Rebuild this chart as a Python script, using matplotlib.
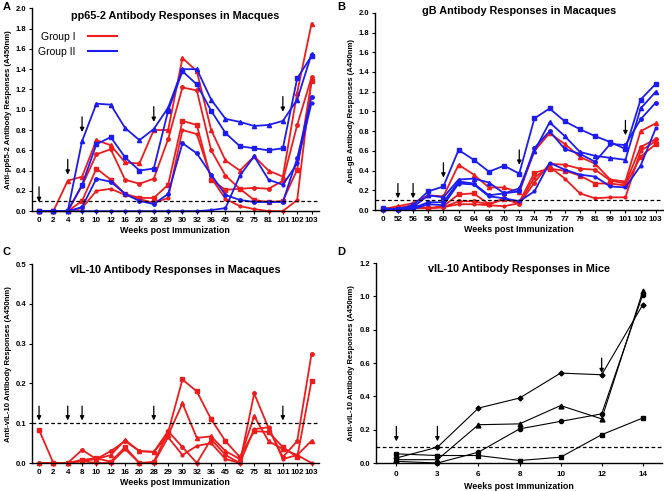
import matplotlib.pyplot as plt
import numpy as np

plt.rcParams['font.family'] = ['Liberation Sans', 'DejaVu Sans']

RED = '#ee1c1c'
BLUE = '#1c1cf2'

# ---- Panel A: pp65-2 in macaques ----
weeks_a = ['0', '2', '4', '8', '10', '12', '16', '20', '28', '29', '30', '32',
           '36', '45', '62', '75', '81', '101', '102', '103']
a_red1 = [0, 0, 0.30, 0.34, 0.70, 0.65, 0.48, 0.47, 0.80, 0.80, 1.51, 1.38, 0.80, 0.50, 0.40, 0.54, 0.40, 0.34, 1.17, 1.85]
a_red2 = [0, 0, 0, 0.25, 0.56, 0.61, 0.31, 0.27, 0.32, 0.71, 1.22, 1.19, 0.60, 0.35, 0.22, 0.23, 0.22, 0.30, 0.85, 1.32]
a_red3 = [0, 0, 0, 0.10, 0.42, 0.31, 0.17, 0.13, 0.13, 0.26, 0.89, 0.85, 0.31, 0.21, 0.22, 0.11, 0.09, 0.10, 0.41, 1.28]
a_red4 = [0, 0, 0, 0.03, 0.20, 0.22, 0.16, 0.12, 0.08, 0.13, 0.80, 0.76, 0.33, 0.12, 0.05, 0.02, 0.00, 0.00, 0.11, 1.30]
a_blue1 = [0, 0, 0, 0.69, 1.06, 1.05, 0.82, 0.70, 0.81, 1.02, 1.40, 1.40, 1.10, 0.91, 0.88, 0.84, 0.85, 0.89, 1.10, 1.55]
a_blue2 = [0, 0, 0, 0.26, 0.66, 0.73, 0.53, 0.40, 0.42, 0.99, 1.38, 1.25, 0.99, 0.77, 0.64, 0.62, 0.60, 0.62, 1.31, 1.53]
a_blue3 = [0, 0, 0, 0.04, 0.32, 0.29, 0.17, 0.10, 0.07, 0.17, 0.67, 0.57, 0.36, 0.16, 0.11, 0.09, 0.09, 0.09, 0.52, 1.13]
a_blue4 = [0, 0, 0, 0, 0, 0, 0, 0, 0, 0, 0, 0, 0.01, 0.03, 0.35, 0.54, 0.31, 0.26, 0.47, 1.07]
a_arrows = {'0': 0.09, '4': 0.36, '8': 0.78, '28': 0.88, '101': 0.98}

# ---- Panel B: gB in macaques ----
weeks_b = ['0', '52', '56', '58', '60', '62', '64', '68', '70', '73', '74', '75',
           '77', '79', '81', '99', '101', '102', '103']
b_blue1 = [0.02, 0.01, 0.05, 0.19, 0.24, 0.61, 0.51, 0.39, 0.45, 0.37, 0.93, 1.03, 0.90, 0.82, 0.75, 0.69, 0.62, 1.12, 1.28]
b_blue2 = [0.01, 0.01, 0.03, 0.15, 0.13, 0.31, 0.32, 0.28, 0.17, 0.22, 0.60, 0.89, 0.75, 0.59, 0.55, 0.53, 0.51, 1.03, 1.20]
b_blue3 = [0.01, 0.00, 0.02, 0.08, 0.08, 0.29, 0.27, 0.15, 0.17, 0.19, 0.63, 0.80, 0.62, 0.57, 0.49, 0.67, 0.66, 0.92, 1.09]
b_blue4 = [0.00, 0.00, 0.01, 0.06, 0.05, 0.27, 0.26, 0.14, 0.12, 0.09, 0.19, 0.48, 0.41, 0.36, 0.34, 0.24, 0.23, 0.45, 0.83]
b_red1 = [0.01, 0.04, 0.07, 0.15, 0.14, 0.46, 0.36, 0.23, 0.23, 0.18, 0.60, 0.78, 0.67, 0.54, 0.47, 0.31, 0.29, 0.80, 0.88]
b_red2 = [0.01, 0.02, 0.05, 0.02, 0.04, 0.16, 0.17, 0.06, 0.11, 0.08, 0.38, 0.42, 0.40, 0.35, 0.27, 0.27, 0.25, 0.54, 0.67]
b_red3 = [0.01, 0.02, 0.03, 0.02, 0.03, 0.09, 0.09, 0.06, 0.12, 0.06, 0.28, 0.47, 0.46, 0.42, 0.41, 0.30, 0.27, 0.64, 0.72]
b_red4 = [0.00, 0.01, 0.02, 0.02, 0.03, 0.06, 0.06, 0.05, 0.04, 0.07, 0.33, 0.44, 0.32, 0.17, 0.12, 0.13, 0.13, 0.60, 0.70]
b_arrows = {'52': 0.12, '56': 0.12, '60': 0.33, '73': 0.46, '101': 0.76}

# ---- Panel C: vIL-10 in macaques ----
c_red1 = [0.083, 0, 0, 0.008, 0.012, 0.003, 0.040, 0, 0.003, 0.078, 0.210, 0.180, 0.110, 0.055, 0.015, 0.080, 0.078, 0.040, 0.015, 0.207]
c_red2 = [0, 0, 0, 0.005, 0.010, 0.020, 0.058, 0.030, 0.028, 0.070, 0.150, 0.063, 0.067, 0.030, 0.010, 0.118, 0.055, 0.035, 0.020, 0.056]
c_red3 = [0, 0, 0, 0.033, 0.010, 0.030, 0.055, 0.030, 0.028, 0.080, 0.040, 0.000, 0.060, 0.020, 0.000, 0.175, 0.088, 0.015, 0.055, 0.275]
c_red4 = [0, 0, 0, 0.005, 0.000, 0.000, 0.035, 0.000, 0.000, 0.065, 0.020, 0.043, 0.050, 0.010, 0.000, 0.085, 0.090, 0.010, 0.020, 0.000]
c_arrows = {'0': 0.107, '4': 0.107, '8': 0.107, '28': 0.107, '101': 0.107}

# ---- Panel D: vIL-10 in mice ----
weeks_d = ['0', '3', '6', '8', '10', '12', '14']
d_m1 = [0.030, 0.095, 0.330, 0.390, 0.540, 0.530, 0.950]
d_m2 = [0.020, 0.020, 0.230, 0.235, 0.345, 0.265, 1.030]
d_m3 = [0.010, 0.000, 0.065, 0.205, 0.250, 0.295, 1.010]
d_m4 = [0.055, 0.045, 0.045, 0.015, 0.035, 0.170, 0.270]
d_arrows = {'0': 0.13, '3': 0.13, '12': 0.54}


def style_axes(ax, labels, ymax, ystep, ylabel, xright=None):
    x = np.arange(len(labels))
    ax.set_xticks(x)
    ax.set_xticklabels(labels, fontsize=5.8, fontweight='bold')
    ax.set_xlim(-0.5, xright if xright is not None else len(labels) - 0.5)
    ax.set_ylim(0, ymax)
    yt = np.arange(0, ymax + ystep / 2, ystep)
    ax.set_yticks(yt)
    ax.set_yticklabels(['%.1f' % v for v in yt], fontsize=5.5, fontweight='bold')
    ax.spines['top'].set_visible(False)
    ax.spines['right'].set_visible(False)
    ax.spines['left'].set_linewidth(1.0)
    ax.spines['bottom'].set_linewidth(1.0)
    ax.tick_params(length=2.5, width=0.8, pad=1.5)
    ax.set_ylabel(ylabel, fontsize=5.6, fontweight='bold', labelpad=3)
    ax.set_xlabel('Weeks post Immunization', fontsize=6.4, fontweight='bold', labelpad=2)


def draw_arrows(ax, labels, arrows, length):
    for wk, tip in arrows.items():
        i = labels.index(wk)
        ax.annotate('', xy=(i, tip), xytext=(i, tip + length),
                    arrowprops=dict(arrowstyle='-|>', color='black', lw=0.9,
                                    mutation_scale=6, shrinkA=0, shrinkB=0))


def plot_series(ax, labels, series, color, markers, sizes):
    x = np.arange(len(labels))
    for s, m, ms in zip(series, markers, sizes):
        ax.plot(x, s, color=color, marker=m, markersize=ms, linewidth=1.3,
                clip_on=False)


fig = plt.figure(figsize=(6.64, 4.91), dpi=100)

# Panel A
axA = fig.add_axes([0.048, 0.570, 0.432, 0.413])
plot_series(axA, weeks_a, [a_red1, a_red2, a_red3, a_red4], RED,
            ['^', 'o', 's', 'o'], [3, 2.5, 3.5, 2])
plot_series(axA, weeks_a, [a_blue1, a_blue2, a_blue3, a_blue4], BLUE,
            ['^', 's', 'o', 'o'], [3, 3.5, 2.5, 2])
axA.axhline(0.095, color='black', linestyle='--', linewidth=0.9, dashes=(3, 2))
draw_arrows(axA, weeks_a, a_arrows, 0.15)
style_axes(axA, weeks_a, 2.0, 0.2, 'Anti-pp65-2 Antibody Responses (A450nm)')
axA.text(0.5, 0.985, 'pp65-2 Antibody Responses in Macques', transform=axA.transAxes,
         ha='center', va='top', fontsize=7.8, fontweight='bold')
hr, = axA.plot([], [], color=RED, linewidth=1.5, label='Group I')
hb, = axA.plot([], [], color=BLUE, linewidth=1.5, label='Group II')
axA.legend(handles=[hr, hb], loc='upper left', bbox_to_anchor=(-0.01, 0.93),
           frameon=False, markerfirst=False, handlelength=2.8,
           handletextpad=1.2, labelspacing=0.5, prop={'size': 7.5})

# Panel B
axB = fig.add_axes([0.565, 0.572, 0.434, 0.402])
plot_series(axB, weeks_b, [b_red1, b_red2, b_red3, b_red4], RED,
            ['^', 's', 'o', 'o'], [3, 3.5, 2.5, 2])
plot_series(axB, weeks_b, [b_blue1, b_blue2, b_blue3, b_blue4], BLUE,
            ['s', '^', 'o', 'o'], [3.5, 3, 2.5, 2])
axB.axhline(0.1, color='black', linestyle='--', linewidth=0.9, dashes=(3, 2))
draw_arrows(axB, weeks_b, b_arrows, 0.15)
style_axes(axB, weeks_b, 2.0, 0.2, 'Anti-gB Antibody Responses (A450nm)')
axB.text(0.5, 1.035, 'gB Antibody Responses in Macaques', transform=axB.transAxes,
         ha='center', va='top', fontsize=7.8, fontweight='bold')

# Panel C
axC = fig.add_axes([0.048, 0.057, 0.432, 0.405])
plot_series(axC, weeks_a, [c_red1, c_red2, c_red3, c_red4], RED,
            ['s', '^', 'o', 'o'], [3.5, 3, 2.5, 2])
axC.axhline(0.1, color='black', linestyle='--', linewidth=0.9, dashes=(3, 2))
draw_arrows(axC, weeks_a, c_arrows, 0.036)
style_axes(axC, weeks_a, 0.5, 0.1, 'Anti-vIL-10 Antibody Responses (A450nm)')
axC.text(0.5, 0.995, 'vIL-10 Antibody Responses in Macaques', transform=axC.transAxes,
         ha='center', va='top', fontsize=7.8, fontweight='bold')

# Panel D
axD = fig.add_axes([0.566, 0.057, 0.431, 0.407])
x_d = np.arange(len(weeks_d))
axD.plot(x_d, d_m1, color='black', marker='D', markersize=2.5, linewidth=0.8, clip_on=False)
axD.plot(x_d, d_m2, color='black', marker='^', markersize=3.5, linewidth=0.8, clip_on=False)
axD.plot(x_d, d_m3, color='black', marker='o', markersize=3, linewidth=0.8, clip_on=False)
axD.plot(x_d, d_m4, color='black', marker='s', markersize=3.5, linewidth=0.8, clip_on=False)
axD.axhline(0.095, color='black', linestyle='--', linewidth=0.9, dashes=(3, 2))
draw_arrows(axD, weeks_d, d_arrows, 0.09)
style_axes(axD, weeks_d, 1.2, 0.2, 'Anti-vIL-10 Antibody Responses (A450nm)', xright=6.47)
axD.tick_params(axis='x', pad=3)
axD.xaxis.labelpad = 3
axD.text(0.5, 0.995, 'vIL-10 Antibody Responses in Mice', transform=axD.transAxes,
         ha='center', va='top', fontsize=7.8, fontweight='bold')

for lbl, (fx, fy) in {'A': (0.004, 0.996), 'B': (0.508, 0.996),
                      'C': (0.004, 0.496), 'D': (0.508, 0.496)}.items():
    fig.text(fx, fy, lbl, fontsize=8, fontweight='bold', ha='left', va='top')

fig.savefig('out.png', dpi=100)
